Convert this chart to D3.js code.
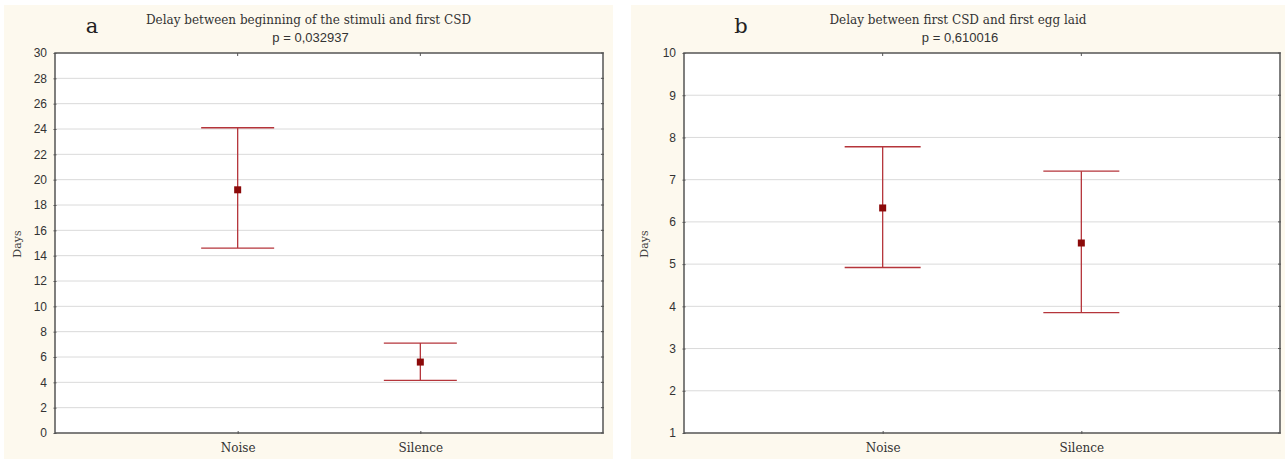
<!DOCTYPE html>
<html>
<head>
<meta charset="utf-8">
<script src="https://cdn.jsdelivr.net/npm/d3@7"></script>
<style>
  body { margin: 0; background: #fff; }
  svg { display: block; }
</style>
</head>
<body>
<svg id="chart" width="1285" height="459"></svg>
<script>
// groups on the x axis
var categories = ["Noise", "Silence"];

// panel a: delay between beginning of the stimuli and first CSD
var meanA = [19.2, 5.6];
var upperA = [24.1, 7.1];
var lowerA = [14.6, 4.15];
var ticksA = [0, 2, 4, 6, 8, 10, 12, 14, 16, 18, 20, 22, 24, 26, 28, 30];

// panel b: delay between first CSD and first egg laid
var meanB = [6.33, 5.5];
var upperB = [7.78, 7.2];
var lowerB = [4.92, 3.85];
var ticksB = [1, 2, 3, 4, 5, 6, 7, 8, 9, 10];

var svg = d3.select("#chart");

function drawPanel(opt) {
    var g = svg.append("g");

    // cream panel background
    g.append("rect")
        .attr("x", opt.bx).attr("y", 5)
        .attr("width", opt.bw).attr("height", 459 - 5)
        .attr("fill", "#fdf9ee");

    var x = d3.scalePoint()
        .domain(["", ...opt.cats, " "])
        .range([opt.left, opt.right]);

    var y = d3.scaleLinear()
        .domain(opt.domain)
        .range([433, 53]);

    // plot area
    g.append("rect")
        .attr("x", opt.left).attr("y", y(opt.domain[1]))
        .attr("width", opt.right - opt.left)
        .attr("height", y(opt.domain[0]) - y(opt.domain[1]))
        .attr("fill", "#fff");

    // gridlines
    g.append("g")
        .selectAll("line")
        .data(opt.ticks.slice(1, -1))
        .enter()
        .append("line")
        .attr("x1", opt.left).attr("x2", opt.right)
        .attr("y1", d => y(d)).attr("y2", d => y(d))
        .attr("stroke", "#dadada")
        .attr("stroke-width", 1);

    // left axis
    var yAxis = d3.axisLeft(y).tickValues(opt.ticks).tickSize(3).tickSizeOuter(0);
    var ya = g.append("g")
        .attr("transform", "translate(" + opt.left + ",0)")
        .call(yAxis);
    ya.select(".domain").remove();
    ya.selectAll(".tick line").attr("stroke", "#555").attr("transform", "translate(1.5,0)");
    ya.selectAll("text")
        .attr("x", -8)
        .attr("font-family", "Liberation Sans, Arial, sans-serif")
        .attr("font-size", 12)
        .attr("fill", "#333");

    // right axis ticks
    g.append("g")
        .selectAll("line")
        .data(opt.ticks)
        .enter()
        .append("line")
        .attr("x1", opt.right - 2).attr("x2", opt.right + 1)
        .attr("y1", d => y(d)).attr("y2", d => y(d))
        .attr("stroke", "#555");

    // bottom axis with category names
    var xa = g.append("g")
        .attr("transform", "translate(0," + y(opt.domain[0]) + ")")
        .call(d3.axisBottom(x).tickValues(opt.cats).tickSize(3).tickSizeOuter(0));
    xa.select(".domain").remove();
    xa.selectAll(".tick line").attr("stroke", "#555").attr("transform", "translate(0,-2)");
    xa.selectAll("text")
        .attr("y", 10)
        .attr("font-family", "DejaVu Serif, serif")
        .attr("font-size", 12)
        .attr("fill", "#333");

    // top ticks
    g.append("g")
        .selectAll("line")
        .data(opt.cats)
        .enter()
        .append("line")
        .attr("x1", d => x(d)).attr("x2", d => x(d))
        .attr("y1", y(opt.domain[1])).attr("y2", y(opt.domain[1]) + 3)
        .attr("stroke", "#555");

    // frame
    g.append("rect")
        .attr("x", opt.left).attr("y", y(opt.domain[1]))
        .attr("width", opt.right - opt.left)
        .attr("height", y(opt.domain[0]) - y(opt.domain[1]))
        .attr("fill", "none")
        .attr("stroke", "#555")
        .attr("stroke-width", 1.5);

    // error bars
    var bars = g.append("g").selectAll("g")
        .data(opt.cats.map((c, i) => ({ c: c, m: opt.mean[i], hi: opt.upper[i], lo: opt.lower[i] })))
        .enter()
        .append("g");

    bars.append("line")
        .attr("x1", d => x(d.c)).attr("x2", d => x(d.c))
        .attr("y1", d => y(d.hi)).attr("y2", d => y(d.lo))
        .attr("stroke", "#b5353b").attr("stroke-width", 1.3);
    bars.append("line")
        .attr("x1", d => x(d.c) - opt.cap / 2).attr("x2", d => x(d.c) + opt.cap / 2)
        .attr("y1", d => y(d.hi)).attr("y2", d => y(d.hi))
        .attr("stroke", "#b5353b").attr("stroke-width", 1.3);
    bars.append("line")
        .attr("x1", d => x(d.c) - opt.cap / 2).attr("x2", d => x(d.c) + opt.cap / 2)
        .attr("y1", d => y(d.lo)).attr("y2", d => y(d.lo))
        .attr("stroke", "#b5353b").attr("stroke-width", 1.3);
    bars.append("rect")
        .attr("x", d => x(d.c) - 3.5).attr("y", d => y(d.m) - 3.5)
        .attr("width", 7).attr("height", 7)
        .attr("fill", "#8b0a0a");

    // y label
    g.append("text")
        .attr("transform", "translate(" + opt.daysX + "," + 244 + ") rotate(-90)")
        .attr("text-anchor", "middle")
        .attr("font-family", "DejaVu Serif, serif")
        .attr("font-size", 11)
        .attr("fill", "#444")
        .text("Days");

    // titles, centred on the panel
    var cx = opt.bx + opt.bw / 2;
    g.append("text")
        .attr("x", cx).attr("y", 24)
        .attr("text-anchor", "middle")
        .attr("font-family", "DejaVu Serif, serif")
        .attr("font-size", 12)
        .attr("fill", "#333")
        .text(opt.title);
    g.append("text")
        .attr("x", cx + 2).attr("y", 42)
        .attr("text-anchor", "middle")
        .attr("font-family", "Liberation Sans, Arial, sans-serif")
        .attr("font-size", 13)
        .attr("fill", "#333")
        .text(opt.p);

    // panel letter
    g.append("text")
        .attr("x", opt.letterX).attr("y", 33)
        .attr("text-anchor", "middle")
        .attr("font-family", "DejaVu Serif, serif")
        .attr("font-size", 21)
        .attr("fill", "#222")
        .text(opt.letter);
}

drawPanel({
    bx: 4, bw: 609, left: 55, right: 603,
    cats: categories, domain: [0, 30], ticks: ticksA,
    mean: meanA, upper: upperA, lower: lowerA, cap: 73,
    title: "Delay between beginning of the stimuli and first CSD",
    p: "p = 0,032937", letter: "a", letterX: 92, daysX: 21
});

drawPanel({
    bx: 631, bw: 654, left: 684, right: 1280,
    cats: categories, domain: [1, 10], ticks: ticksB,
    mean: meanB, upper: upperB, lower: lowerB, cap: 76,
    title: "Delay between first CSD and first egg laid",
    p: "p = 0,610016", letter: "b", letterX: 741, daysX: 648
});
</script>
</body>
</html>
